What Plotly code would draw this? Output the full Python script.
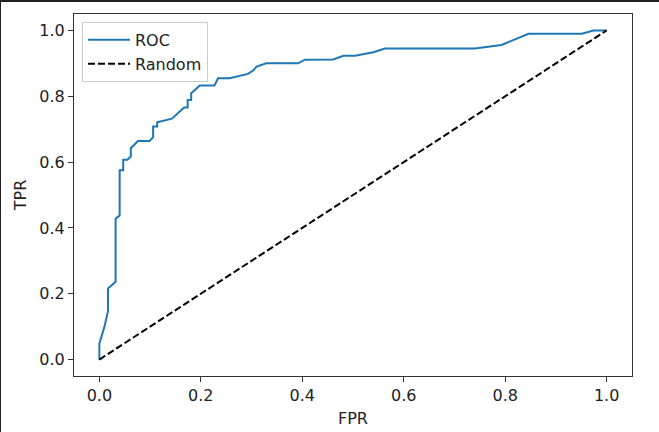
import plotly.graph_objects as go

fpr = [0, 0, 0.01, 0.017, 0.017, 0.032, 0.032, 0.040, 0.040, 0.047, 0.047, 0.055,
       0.062, 0.062, 0.076, 0.099, 0.106, 0.106, 0.114, 0.114, 0.143, 0.167, 0.174,
       0.174, 0.181, 0.181, 0.198, 0.227, 0.234, 0.257, 0.293, 0.303, 0.310, 0.329,
       0.392, 0.405, 0.461, 0.481, 0.504, 0.540, 0.563, 0.740, 0.793, 0.846, 0.951,
       0.974, 1.0]
tpr = [0, 0.048, 0.10, 0.147, 0.216, 0.236, 0.428, 0.438, 0.575, 0.575, 0.607, 0.607,
       0.617, 0.642, 0.664, 0.664, 0.676, 0.708, 0.708, 0.721, 0.732, 0.766, 0.766,
       0.789, 0.789, 0.809, 0.833, 0.833, 0.855, 0.855, 0.868, 0.878, 0.890, 0.900,
       0.900, 0.911, 0.912, 0.923, 0.923, 0.934, 0.945, 0.945, 0.956, 0.990, 0.990,
       1.0, 1.0]
random_x = [0, 1]
random_y = [0, 1]
tick_vals = [0.0, 0.2, 0.4, 0.6, 0.8, 1.0]
tick_text = ["0.0", "0.2", "0.4", "0.6", "0.8", "1.0"]

font = dict(family="DejaVu Sans", size=16, color="#222222")

fig = go.Figure()
fig.add_trace(go.Scatter(x=fpr, y=tpr, mode="lines", name="ROC",
                         line=dict(color="#1f77b4", width=2)))
fig.add_trace(go.Scatter(x=random_x, y=random_y, mode="lines", name="Random",
                         line=dict(color="black", width=2, dash="7px,3px")))

axis_common = dict(
    showgrid=False, zeroline=False, showline=True, linecolor="#333333", linewidth=1,
    mirror=True, ticks="outside", ticklen=5, tickwidth=1, tickcolor="#333333",
    tickvals=tick_vals, ticktext=tick_text, tickfont=font, automargin=False,
)

fig.update_layout(
    width=659, height=432,
    margin=dict(l=74, r=27, t=14, b=56),
    paper_bgcolor="white", plot_bgcolor="white",
    font=font,
    xaxis=dict(range=[-0.05, 1.05], title=dict(text="FPR", font=font, standoff=8),
               **axis_common),
    yaxis=dict(range=[-0.05, 1.05], title=dict(text="TPR", font=font, standoff=8),
               **axis_common),
    legend=dict(x=0.0143, y=0.978, xanchor="left", yanchor="top",
                bgcolor="rgba(255,255,255,0.8)", bordercolor="#cccccc", borderwidth=1,
                font=font, tracegroupgap=0, itemwidth=42),
)

post = """
document.body.style.margin='0';
document.body.style.overflow='hidden';
var t=document.createElement('div');
t.style.cssText='position:fixed;left:0;top:0;width:659px;height:2px;background:#222;z-index:10;';
document.body.appendChild(t);
var l=document.createElement('div');
l.style.cssText='position:fixed;left:0;top:0;width:1px;height:432px;background:#222;z-index:10;';
document.body.appendChild(l);
"""

fig.write_html("out.html", post_script=post, config={"displayModeBar": False})
